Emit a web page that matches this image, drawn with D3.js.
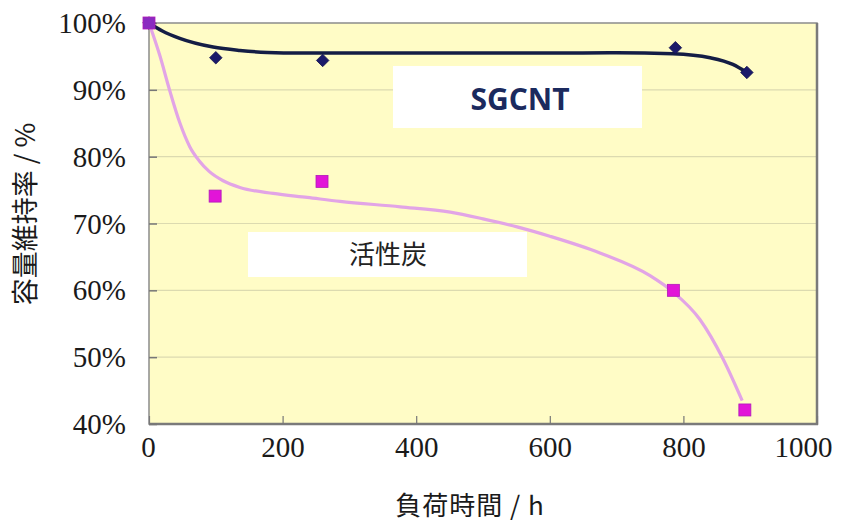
<!DOCTYPE html>
<html><head><meta charset="utf-8">
<script src="https://cdn.jsdelivr.net/npm/d3@7"></script>
<style>body{margin:0;background:#fff}svg{display:block}</style>
</head><body>
<svg id="c" width="852" height="527"></svg>
<script>
// ---- data ----
const xTicks = [0, 200, 400, 600, 800, 1000];
const yTicks = [0.4, 0.5, 0.6, 0.7, 0.8, 0.9, 1.0];
const sgcntHours = [0, 100, 260, 788, 895];
const sgcntValues = [1.00, 0.948, 0.944, 0.963, 0.926];
const carbonHours = [0, 99, 259, 785, 892];
const carbonValues = [1.00, 0.741, 0.763, 0.600, 0.421];
// trend curves
const sgcntTrendX = [0, 20, 46, 96, 136, 177, 226, 400, 600, 700, 784, 840, 874, 895];
const sgcntTrendY = [1.00, 0.988, 0.977, 0.964, 0.959, 0.956, 0.955, 0.955, 0.955, 0.9555, 0.954, 0.948, 0.938, 0.926];
const carbonTrendX = [0, 16, 31, 46, 61, 75, 90, 111, 136, 186, 237, 286, 376, 451, 500, 551, 600, 675, 750, 784, 825, 859, 888];
const carbonTrendY = [1.00, 0.952, 0.899, 0.851, 0.815, 0.794, 0.778, 0.764, 0.754, 0.745, 0.739, 0.733, 0.725, 0.717, 0.707, 0.695, 0.681, 0.656, 0.622, 0.598, 0.556, 0.498, 0.435];
const labels = {sgcnt: "SGCNT", carbon: "活性炭", xTitle: "負荷時間 / h", yTitle: "容量維持率 / %"};

const svg = d3.select("#c");
const L = 149, R = 817, T = 23, B = 424;
const x = d3.scaleLinear().domain([0, 1000]).range([L, R]);
const y = d3.scaleLinear().domain([0.4, 1.0]).range([B, T]);

// plot background
svg.append("rect").attr("x", L).attr("y", T).attr("width", R - L).attr("height", B - T)
  .attr("fill", "#fffcc6");

// gridlines
svg.append("g").selectAll("line").data(yTicks.filter(v => v > 0.41 && v < 0.99)).join("line")
  .attr("x1", L).attr("x2", R).attr("y1", d => y(d)).attr("y2", d => y(d))
  .attr("stroke", "#dcdab0").attr("stroke-width", 1.2);

// label boxes
svg.append("rect").attr("x", 393).attr("y", 66).attr("width", 249).attr("height", 62).attr("fill", "#ffffff");
svg.append("rect").attr("x", 248).attr("y", 232).attr("width", 279).attr("height", 45).attr("fill", "#ffffff");

// frame
svg.append("rect").attr("x", L).attr("y", T).attr("width", R - L).attr("height", B - T)
  .attr("fill", "none").attr("stroke", "#8c8c8c").attr("stroke-width", 1.5);
svg.append("line").attr("x1", R).attr("x2", R).attr("y1", T).attr("y2", B + 1).attr("stroke", "#7a7a7a").attr("stroke-width", 2.5);
svg.append("line").attr("x1", L).attr("x2", R + 1).attr("y1", B).attr("y2", B).attr("stroke", "#7a7a7a").attr("stroke-width", 2.5);

// axes
const serif = "'Liberation Serif', 'Times New Roman', serif";
const yAxis = svg.append("g").attr("transform", `translate(${L},0)`)
  .call(d3.axisRight(y).tickValues(yTicks).tickSize(8).tickFormat(d3.format(".0%")));
yAxis.attr("font-family", null).attr("font-size", null);
yAxis.select(".domain").remove();
yAxis.selectAll(".tick line").attr("stroke", "#777").attr("stroke-width", 1.5);
yAxis.selectAll(".tick text").attr("x", -23).attr("text-anchor", "end").attr("dy", "0.33em")
  .style("font-family", serif).style("font-size", "29px").attr("fill", "#1a1a1a");

const xAxis = svg.append("g").attr("transform", `translate(0,${B})`)
  .call(d3.axisTop(x).tickValues(xTicks).tickSize(8).tickFormat(d3.format("d")));
xAxis.attr("font-family", null).attr("font-size", null);
xAxis.select(".domain").remove();
xAxis.selectAll(".tick line").attr("stroke", "#777").attr("stroke-width", 1.2);
xAxis.selectAll(".tick text").attr("y", 33).attr("dy", "0").attr("text-anchor", "middle")
  .style("font-family", serif).style("font-size", "29px").attr("fill", "#1a1a1a")
  .attr("dx", d => d === 1000 ? -14 : (d === 0 ? -1 : 0));

// trend lines
const line = d3.line().x(d => x(d[0])).y(d => y(d[1])).curve(d3.curveMonotoneX);
svg.append("path").datum(carbonTrendX.map((v, i) => [v, carbonTrendY[i]]))
  .attr("d", line).attr("fill", "none").attr("stroke", "#e2a4e6").attr("stroke-width", 3.2);
svg.append("path").datum(sgcntTrendX.map((v, i) => [v, sgcntTrendY[i]]))
  .attr("d", line).attr("fill", "none").attr("stroke", "#141d45").attr("stroke-width", 3.5);

// markers
svg.append("g").selectAll("path").data(sgcntHours.map((v, i) => [v, sgcntValues[i]])).join("path")
  .attr("d", d3.symbol().type(d3.symbolDiamond2).size(100))
  .attr("transform", d => `translate(${x(d[0])},${y(d[1])})`)
  .attr("fill", "#1b1a6a").attr("stroke", "#14134f").attr("stroke-width", 0.8);
svg.append("g").selectAll("rect").data(carbonHours.map((v, i) => [v, carbonValues[i]])).join("rect")
  .attr("x", d => x(d[0]) - 6).attr("y", d => y(d[1]) - 6).attr("width", 12).attr("height", 12)
  .attr("fill", (d, i) => i === 0 ? "#8a2bc0" : "#e214d8").attr("stroke", "#b01ab8").attr("stroke-width", 0.8);

// box labels
svg.append("text").attr("x", 520).attr("y", 99).attr("dy", "0.36em").attr("text-anchor", "middle")
  .style("font-family", "'Open Sans','Noto Sans',sans-serif").attr("font-weight", "bold").style("font-size", "30px")
  .attr("fill", "#1b2a5e").text(labels.sgcnt);
svg.append("text").attr("x", 388).attr("y", 255).attr("dy", "0.36em").attr("text-anchor", "middle")
  .style("font-family", "'Noto Sans CJK JP',sans-serif").style("font-size", "26px")
  .attr("fill", "#222").text(labels.carbon);

// axis titles
svg.append("text").attr("x", 470).attr("y", 506).attr("dy", "0.36em").attr("text-anchor", "middle")
  .style("font-family", "'Noto Sans CJK JP',sans-serif").style("font-size", "26px").style("letter-spacing", "1px")
  .attr("fill", "#1a1a1a").text(labels.xTitle);
svg.append("text").attr("transform", "translate(25,214) rotate(-90)").attr("dy", "0.36em").attr("text-anchor", "middle")
  .style("font-family", "'Noto Sans CJK JP',sans-serif").style("font-size", "27px")
  .attr("fill", "#1a1a1a").text(labels.yTitle);
</script>
</body></html>
